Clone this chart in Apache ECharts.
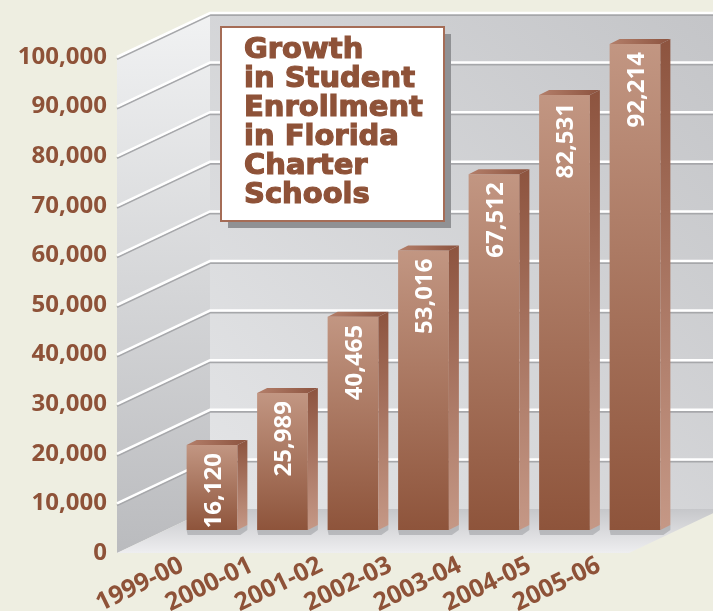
<!DOCTYPE html>
<html>
<head>
<meta charset="utf-8">
<script src="https://cdn.jsdelivr.net/npm/echarts@6/dist/echarts.min.js"></script>
<style>
html, body { margin: 0; padding: 0; background: #eeeee1; }
#chartmain { width: 713px; height: 611px; }
</style>
</head>
<body>
<div id="chartmain"></div>
<script>
var years = ['1999-00', '2000-01', '2001-02', '2002-03', '2003-04', '2004-05', '2005-06'];
var enrollment = [16120, 25989, 40465, 53016, 67512, 82531, 92214];
var gridTicks = [10000, 20000, 30000, 40000, 50000, 60000, 70000, 80000, 90000, 100000];
var titleLines = ['Growth', 'in Student', 'Enrollment', 'in Florida', 'Charter', 'Schools'];

var brown = '#8e5238';
// depth of the box (back wall offset from the front edge)
var depthX = 93, depthY = -44;

function fmt(v) {
	return Number(v).toLocaleString('en-US');
}

function lin(x, y, x2, y2, c1, c2) {
	return new echarts.graphic.LinearGradient(x, y, x2, y2, [
		{ offset: 0, color: c1 },
		{ offset: 1, color: c2 }
	]);
}

// walls and floor
function renderWalls(params, api) {
	var b0 = api.coord([0, 0]);
	var b1 = api.coord([1, 0]);
	var t0 = api.coord([0, 100000]);
	var t1 = api.coord([1, 100000]);
	return {
		type : 'group',
		children : [ {
			type : 'polygon',
			shape : { points : [ [ t0[0] + depthX, t0[1] + depthY ], [ t1[0] + depthX + 10, t1[1] + depthY ],
				[ b1[0] + depthX + 10, b1[1] + depthY ], [ b0[0] + depthX, b0[1] + depthY ] ] },
			style : { fill : lin(0, 1, 1, 0, '#e4e5e7', '#c3c4c7') }
		}, {
			type : 'polygon',
			shape : { points : [ [ t0[0], t0[1] ], [ t0[0] + depthX, t0[1] + depthY ],
				[ b0[0] + depthX, b0[1] + depthY ], [ b0[0], b0[1] ] ] },
			style : { fill : lin(0, 0, 0, 1, '#f1f2f3', '#babbbe') }
		}, {
			type : 'polygon',
			shape : { points : [ [ b0[0], b0[1] ], [ b1[0], b1[1] ],
				[ b1[0] + depthX, b1[1] + depthY ], [ b0[0] + depthX, b0[1] + depthY ] ] },
			style : { fill : lin(0, 1, 0, 0, '#eeeef0', '#c6c7ca') }
		} ]
	};
}

// white grid lines with a grey edge, running along side wall and back wall
function renderGridLine(params, api) {
	var v = api.value(1);
	var p = api.coord([0, v]);
	var e = api.coord([1, v]);
	var pts = [ [ p[0], p[1] ], [ p[0] + depthX, p[1] + depthY ], [ e[0] + depthX + 10, p[1] + depthY ] ];
	var lower = pts.map(function(q) { return [ q[0], q[1] + 2 ]; });
	return {
		type : 'group',
		children : [ {
			type : 'polyline',
			shape : { points : lower },
			style : { stroke : '#a6a7aa', lineWidth : 2, fill : null }
		}, {
			type : 'polyline',
			shape : { points : pts },
			style : { stroke : '#ffffff', lineWidth : 2.5, fill : null }
		} ]
	};
}

// 3d-looking bars
function renderBar(params, api) {
	var i = api.value(0), v = api.value(1);
	var top = api.coord([i, v]);
	var base = api.coord([i, 0]);
	var w = api.size([1, 0])[0] * 0.72;
	var x0 = top[0] - w / 2, x1 = top[0] + w / 2, y0 = top[1], y1 = base[1];
	var sx = 10, sy = -5;
	return {
		type : 'group',
		children : [ {
			type : 'polygon',
			shape : { points : [ [ x0, y1 ], [ x1 + sx, y1 + sy ], [ x1 + sx, y1 ], [ x1 + 3, y1 + 5 ], [ x0 + 1, y1 + 5 ] ] },
			style : { fill : 'rgba(140,141,146,0.45)' }
		}, {
			type : 'rect',
			shape : { x : x0, y : y0, width : w, height : y1 - y0 },
			style : { fill : lin(0, 0, 0, 1, '#c29682', '#8e543b') }
		}, {
			type : 'polygon',
			shape : { points : [ [ x1, y0 ], [ x1 + sx, y0 + sy ], [ x1 + sx, y1 + sy ], [ x1, y1 ] ] },
			style : { fill : lin(0, 0, 0, 1, '#8d543f', '#c59886') }
		}, {
			type : 'polygon',
			shape : { points : [ [ x0, y0 ], [ x0 + sx, y0 + sy ], [ x1 + sx, y0 + sy ], [ x1, y0 ] ] },
			style : { fill : lin(0, 0, 1, 0, '#b47f6a', '#8c533f') }
		}, {
			type : 'text',
			x : top[0] + 2,
			y : y0 + 8,
			rotation : Math.PI / 2,
			style : {
				text : fmt(v),
				fill : '#ffffff',
				fontSize : 24,
				fontWeight : 'bold',
				fontFamily : 'Open Sans',
				align : 'right',
				verticalAlign : 'middle'
			}
		} ]
	};
}

// slanted year labels under the floor
function renderYear(params, api) {
	var p = api.coord([api.value(0), 0]);
	return {
		type : 'text',
		x : p[0],
		y : p[1] + 11,
		rotation : 26 * Math.PI / 180,
		style : {
			text : years[params.dataIndex],
			fill : brown,
			fontSize : 25,
			fontWeight : 'bold',
			fontFamily : 'Open Sans',
			align : 'right',
			verticalAlign : 'middle'
		}
	};
}

var option = {
	backgroundColor : '#eeeee1',
	animation : false,
	graphic : [ {
		// drop shadow behind the title box
		type : 'rect',
		left : 228,
		top : 34,
		shape : { width : 223, height : 194 },
		style : { fill : '#909194' },
		z : 5
	} ],
	title : {
		text : titleLines.join('\n'),
		left : 221,
		top : 27,
		padding : [ 9, 21, 11, 23 ],
		backgroundColor : '#ffffff',
		borderColor : '#a56c56',
		borderWidth : 2,
		z : 6,
		textStyle : {
			color : brown,
			fontFamily : 'DejaVu Sans',
			fontWeight : 'bold',
			fontSize : 29,
			lineHeight : 29,
			textBorderColor : brown,
			textBorderWidth : 1.2
		}
	},
	grid : [
		{ left : 117, top : 57, width : 512, height : 496 },
		{ left : 176.75, top : 3, width : 493.5, height : 527 },
		{ left : 147.25, top : 3, width : 486.5, height : 550 }
	],
	xAxis : [
		{ gridIndex : 0, type : 'value', min : 0, max : 1, show : false },
		{ gridIndex : 1, type : 'category', data : years, show : false },
		{ gridIndex : 2, type : 'category', data : years, show : false }
	],
	yAxis : [
		{
			gridIndex : 0,
			type : 'value',
			min : 0,
			max : 100000,
			interval : 10000,
			axisLine : { show : false },
			axisTick : { show : false },
			splitLine : { show : false },
			axisLabel : {
				margin : 10,
				color : brown,
				fontSize : 24,
				fontWeight : 'bold',
				fontFamily : 'Open Sans',
				formatter : function(v) { return fmt(v); }
			}
		},
		{ gridIndex : 1, type : 'value', min : 0, max : 100000, show : false },
		{ gridIndex : 2, type : 'value', min : 0, max : 1, show : false }
	],
	series : [ {
		type : 'custom',
		xAxisIndex : 0,
		yAxisIndex : 0,
		z : 1,
		silent : true,
		clip : false,
		data : [ [ 0, 0 ] ],
		renderItem : renderWalls
	}, {
		type : 'custom',
		xAxisIndex : 0,
		yAxisIndex : 0,
		z : 2,
		silent : true,
		clip : false,
		data : gridTicks.map(function(v) { return [ 0, v ]; }),
		renderItem : renderGridLine
	}, {
		type : 'custom',
		xAxisIndex : 1,
		yAxisIndex : 1,
		z : 3,
		clip : false,
		data : enrollment.map(function(v, i) { return [ i, v ]; }),
		renderItem : renderBar
	}, {
		type : 'custom',
		xAxisIndex : 2,
		yAxisIndex : 2,
		z : 3,
		silent : true,
		clip : false,
		data : years.map(function(y, i) { return [ i, 0 ]; }),
		renderItem : renderYear
	} ]
};

var myChart = echarts.init(document.getElementById('chartmain'));
myChart.setOption(option);
</script>
</body>
</html>
